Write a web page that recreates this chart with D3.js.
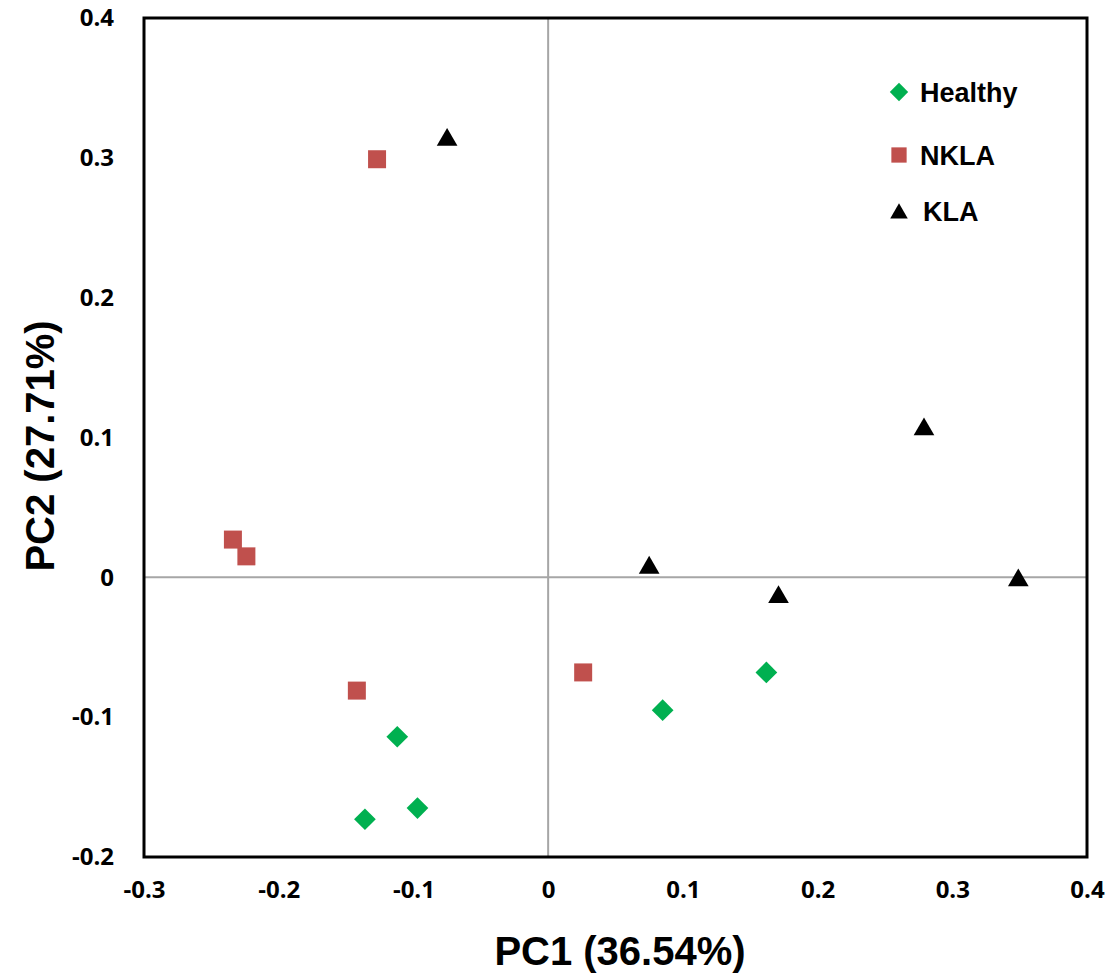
<!DOCTYPE html>
<html>
<head>
<meta charset="utf-8">
<script src="https://cdn.jsdelivr.net/npm/d3@7"></script>
<style>
    body { margin: 0; background: #fff; }
    .tick text { font-family: "Open Sans", "Liberation Sans", sans-serif; font-weight: bold; font-size: 24px; fill: #000; }
</style>
</head>
<body>
<div id="my_dataviz"></div>
<script>
// data
var healthyX = [-0.112, -0.097, -0.136, 0.085, 0.162];
var healthyY = [-0.114, -0.165, -0.173, -0.095, -0.068];
var nklaX = [-0.127, -0.234, -0.224, -0.142, 0.026];
var nklaY = [0.299, 0.027, 0.015, -0.081, -0.068];
var klaX = [-0.075, 0.075, 0.171, 0.279, 0.349];
var klaY = [0.315, 0.009, -0.012, 0.108, 0.000];
var xTicks = [-0.3, -0.2, -0.1, 0, 0.1, 0.2, 0.3, 0.4];
var yTicks = [-0.2, -0.1, 0, 0.1, 0.2, 0.3, 0.4];
var groupNames = ["Healthy", "NKLA", "KLA"];

function visualize() {
    var margin = { top: 18, right: 26, bottom: 123, left: 144 },
        W = 1113, H = 980,
        width = W - margin.left - margin.right,
        height = H - margin.top - margin.bottom;

    var svg = d3.select("#my_dataviz")
        .append("svg")
        .attr("width", W)
        .attr("height", H)
        .append("g")
        .attr("transform", "translate(" + margin.left + "," + margin.top + ")");

    var x = d3.scaleLinear().domain([-0.3, 0.4]).range([0, width]);
    var y = d3.scaleLinear().domain([-0.2, 0.4]).range([height, 0]);

    // plain hyphen for negatives, like the original
    var fmt = function(d) { return d === 0 ? "0" : d.toFixed(1); };

    // axes (ticks hidden, only labels)
    var xAxis = svg.append("g")
        .attr("transform", "translate(0," + height + ")")
        .call(d3.axisBottom(x).tickValues(xTicks).tickFormat(fmt).tickSize(0).tickPadding(24));
    xAxis.select(".domain").remove();

    var yAxis = svg.append("g")
        .call(d3.axisLeft(y).tickValues(yTicks).tickFormat(fmt).tickSize(0).tickPadding(30));
    yAxis.select(".domain").remove();

    // zero lines
    svg.append("line")
        .attr("x1", x(0)).attr("x2", x(0))
        .attr("y1", 0).attr("y2", height)
        .attr("stroke", "#a6a6a6").attr("stroke-width", 2);
    svg.append("line")
        .attr("x1", 0).attr("x2", width)
        .attr("y1", y(0)).attr("y2", y(0))
        .attr("stroke", "#a6a6a6").attr("stroke-width", 2);

    // plot frame
    svg.append("rect")
        .attr("x", 0).attr("y", 0)
        .attr("width", width).attr("height", height)
        .attr("fill", "none")
        .attr("stroke", "#000")
        .attr("stroke-width", 3);

    var groups = [
        { name: groupNames[0], xs: healthyX, ys: healthyY, color: "#00b050", shape: d3.symbolDiamond2, size: 300, dy: 0 },
        { name: groupNames[1], xs: nklaX, ys: nklaY, color: "#c0504d", shape: d3.symbolSquare, size: 324, dy: 0 },
        { name: groupNames[2], xs: klaX, ys: klaY, color: "#000000", shape: d3.symbolTriangle, size: 185, dy: 3 }
    ];

    groups.forEach(function(g) {
        var pts = g.xs.map(function(v, i) { return { x: v, y: g.ys[i] }; });
        svg.selectAll("myPts")
            .data(pts)
            .enter()
            .append("path")
            .attr("d", d3.symbol().type(g.shape).size(g.size))
            .attr("transform", function(d) { return "translate(" + x(d.x) + "," + (y(d.y) + g.dy) + ")"; })
            .attr("fill", g.color);
    });

    // legend
    var legendY = [74, 137, 193];
    var legend = svg.selectAll("myLegend")
        .data(groups)
        .enter()
        .append("g")
        .attr("transform", function(d, i) { return "translate(755," + legendY[i] + ")"; });

    legend.append("path")
        .attr("d", function(d) { return d3.symbol().type(d.shape).size(d.size * 0.72)(); })
        .attr("transform", function(d) { return "translate(0," + (d.dy * 0.8) + ")"; })
        .attr("fill", function(d) { return d.color; });

    legend.append("text")
        .attr("x", function(d, i) { return i == 2 ? 24 : 21; })
        .attr("y", 9.5)
        .text(function(d) { return d.name; })
        .style("font-family", "Liberation Sans, Arial, sans-serif")
        .style("font-weight", "bold")
        .style("font-size", "27px");

    // axis titles
    svg.append("text")
        .attr("x", 620 - margin.left)
        .attr("y", height + 108)
        .attr("text-anchor", "middle")
        .style("font-family", "Liberation Sans, Arial, sans-serif")
        .style("font-weight", "bold")
        .style("font-size", "40px")
        .text("PC1 (36.54%)");

    svg.append("text")
        .attr("transform", "translate(" + (-90) + "," + (446 - margin.top) + ") rotate(-90)")
        .attr("text-anchor", "middle")
        .style("font-family", "Liberation Sans, Arial, sans-serif")
        .style("font-weight", "bold")
        .style("font-size", "40px")
        .text("PC2 (27.71%)");
}

visualize();
</script>
</body>
</html>
